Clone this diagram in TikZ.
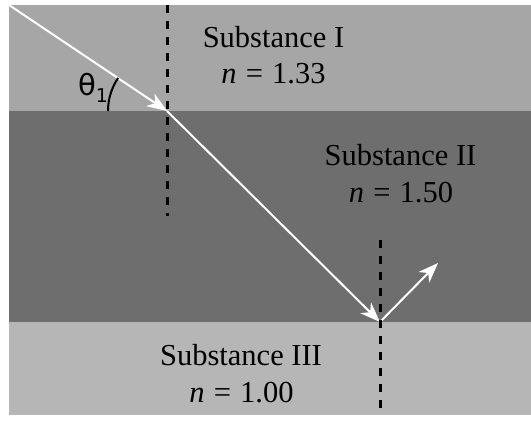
\documentclass[tikz,border=0pt]{standalone}
\usepackage{fontspec}
\newfontfamily\dejavu{DejaVu Sans}
\newfontfamily\lserif{Liberation Serif}
\usetikzlibrary{arrows.meta}
\definecolor{topgray}{RGB}{166,166,166}
\definecolor{midgray}{RGB}{110,110,110}
\definecolor{botgray}{RGB}{182,182,182}
\newcommand{\nval}[1]{\textit{n}\hspace{0.3em}=\hspace{0.3em}#1}
\tikzset{
  ray/.style={draw=white, line width=2pt, -{Stealth[length=20pt,width=15pt,inset=6pt]}},
  normal/.style={draw=black, line width=3pt, dash pattern=on 8.5pt off 7.5pt},
  lbl/.style={font=\lserif\fontsize{30.5}{36}\selectfont, anchor=base, inner sep=0pt},
}
\begin{document}
\begin{tikzpicture}[x=1pt,y=1pt]
\useasboundingbox (0,0) rectangle (531,426);
\fill[white] (0,0) rectangle (531,426);
\fill[topgray] (9,421) rectangle (531,315);
\fill[midgray] (9,315) rectangle (531,104);
\fill[botgray] (9,104) rectangle (531,11);

\coordinate (A) at (9,421);
\coordinate (P) at (167,315);
\coordinate (Q) at (380,104);
\coordinate (R) at (438,163);
\coordinate (N1a) at (167,421);
\coordinate (N1b) at (167,210);
\coordinate (N2a) at (380,186);
\coordinate (N2b) at (380,18);

\draw[ray] (A) -- (P);
\draw[ray] (P) -- (Q);
\draw[ray] (Q) -- (R);

\draw[normal] (N1a) -- (N1b);
\draw[normal] (N2a) -- (N2b);

\draw[black, line width=2pt] (P) ++(180:59) arc[start angle=180, end angle=146, radius=59];
\node[inner sep=0pt] (theta) at (93,338) {\dejavu\fontsize{29}{32}\selectfont θ\raisebox{-0.25em}{\fontsize{19}{20}\selectfont 1}};

\node[lbl] (s1) at (273.5,378) {Substance I};
\node[lbl] (n1) at (273.5,342) {\nval{1.33}};
\node[lbl] (s2) at (400.5,260) {Substance II};
\node[lbl] (n2) at (401,223) {\nval{1.50}};
\node[lbl] (s3) at (241,60) {Substance III};
\node[lbl] (n3) at (241.5,23) {\nval{1.00}};
\end{tikzpicture}
\end{document}
